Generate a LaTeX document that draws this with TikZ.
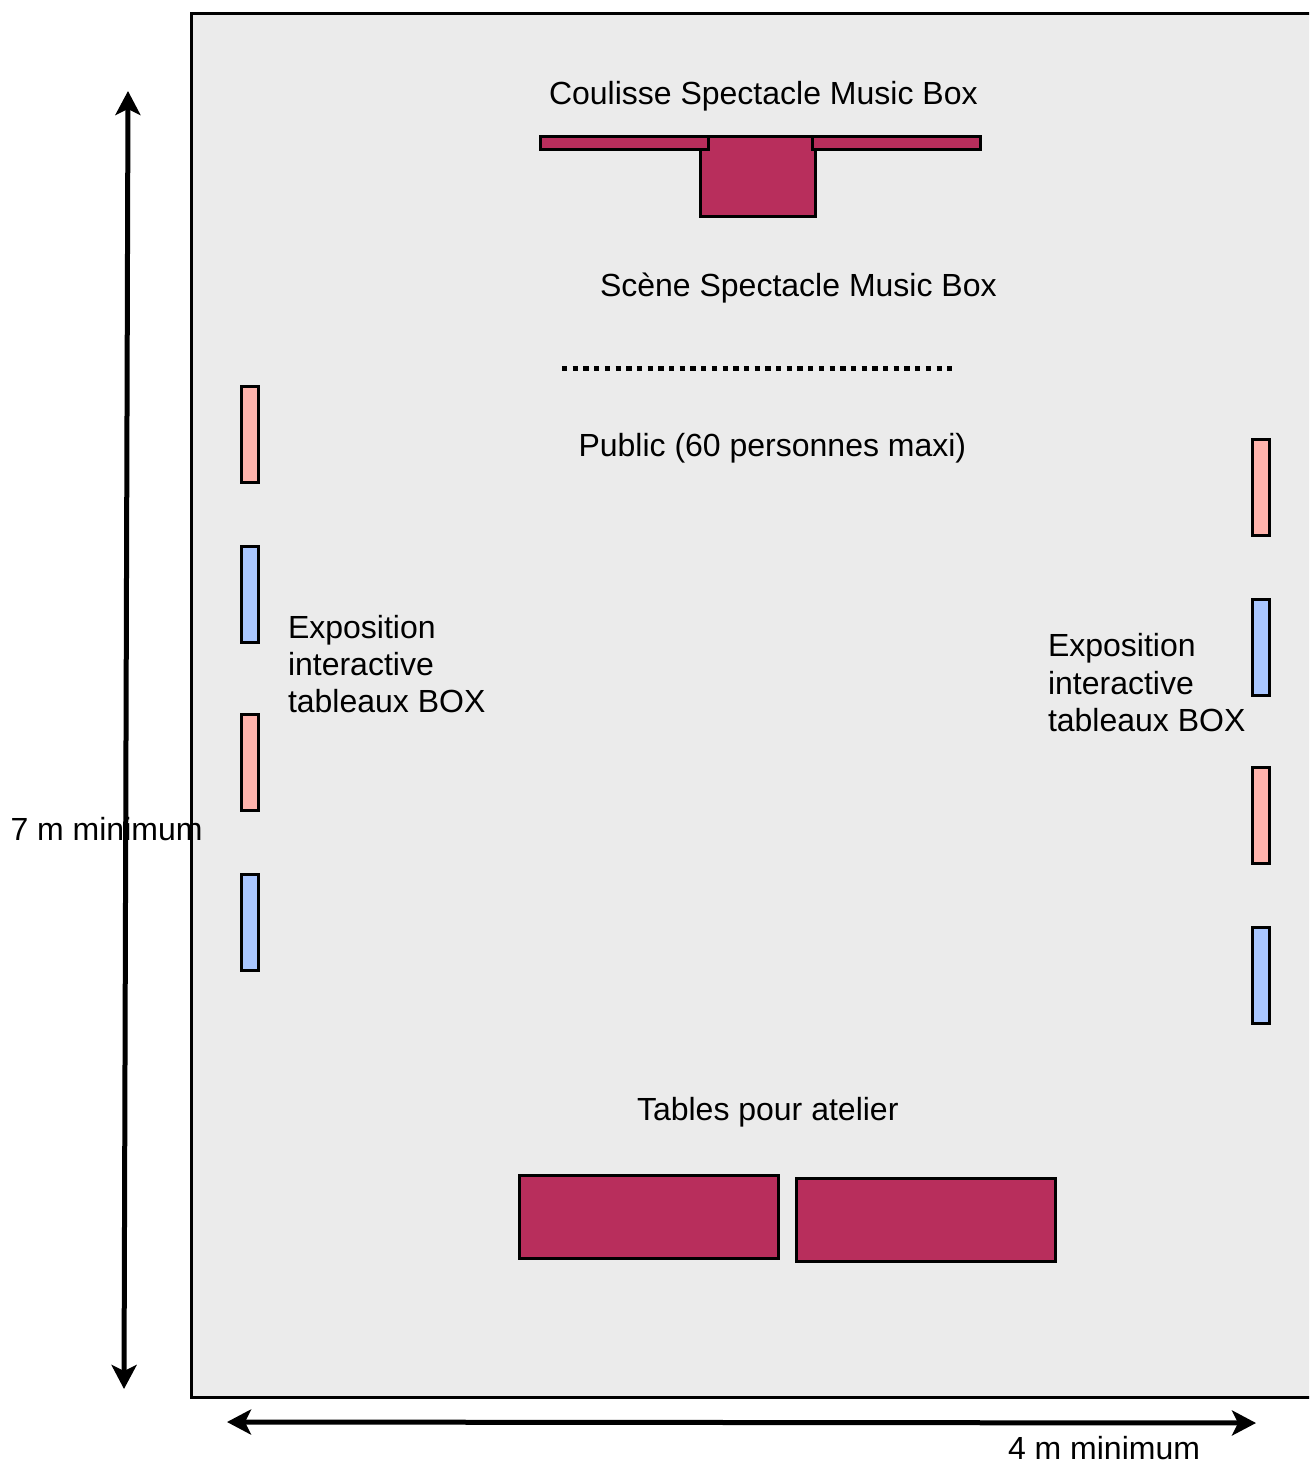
\documentclass[tikz,border=0pt]{standalone}
\usepackage{fontspec}
\setmainfont{Liberation Sans}
\usetikzlibrary{arrows.meta}
\definecolor{roomfill}{HTML}{EBEBEB}
\definecolor{crimson}{HTML}{B82E5C}
\definecolor{pinkpanel}{HTML}{FFB3AC}
\definecolor{bluepanel}{HTML}{A9C6FF}
\tikzset{
  x=1pt,y=-1pt,
  boxed/.style={draw=black,line width=2.9pt,anchor=north west,inner sep=0pt,outer sep=0pt},
  room/.style={boxed,fill=roomfill,minimum width=1200pt,minimum height=1384pt},
  crim/.style={boxed,fill=crimson},
  pinkp/.style={boxed,fill=pinkpanel,minimum width=16.6pt,minimum height=96pt},
  bluep/.style={boxed,fill=bluepanel,minimum width=16.6pt,minimum height=96pt},
  label/.style={anchor=base west,inner sep=0pt,outer sep=0pt,font=\fontsize{32}{37.4}\selectfont,align=left,text=black},
  dim/.style={line width=5pt,{Stealth[length=24pt,width=25pt,inset=6pt]}-{Stealth[length=24pt,width=25pt,inset=6pt]}},
  dots/.style={line width=5pt,dash pattern=on 5.3pt off 5.4pt}
}
\begin{document}
\begin{tikzpicture}
\useasboundingbox (0,0) rectangle (1309,1461);
\clip (0,0) rectangle (1309,1461);
\node[room] (roomrect) at (191.7,13.7) {};
\node[crim,minimum width=115pt,minimum height=79.6pt] (stage) at (700.9,136.6) {};
\node[crim,minimum width=168pt,minimum height=13pt] (wingl) at (540.9,136.6) {};
\node[crim,minimum width=168pt,minimum height=13pt] (wingr) at (812.9,136.6) {};
\node[crim,minimum width=259pt,minimum height=83pt] (table1) at (519.9,1175.9) {};
\node[crim,minimum width=259pt,minimum height=83pt] (table2) at (796.9,1178.9) {};
\node[pinkp] (lp1) at (241.9,386.9) {};
\node[bluep] (lb1) at (241.9,546.9) {};
\node[pinkp] (lp2) at (241.9,714.9) {};
\node[bluep] (lb2) at (241.9,874.9) {};
\node[pinkp] (rp1) at (1252.9,439.9) {};
\node[bluep] (rb1) at (1252.9,599.9) {};
\node[pinkp] (rp2) at (1252.9,767.9) {};
\node[bluep] (rb2) at (1252.9,927.9) {};
\node[label] (t1) at (549,105) {Coulisse Spectacle Music Box};
\node[label] (t2) at (600,296) {Scène Spectacle Music Box};
\node[label] (t3) at (578.5,456) {Public (60 personnes maxi)};
\node[label,anchor=north west] (t4) at (288,615) {Exposition\\interactive\\tableaux BOX};
\node[label,anchor=north west] (t5) at (1048,633.5) {Exposition\\interactive\\tableaux BOX};
\node[label] (t6) at (637,1120) {Tables pour atelier};
\node[label] (t7) at (10.5,840) {7 m minimum};
\node[label] (t8) at (1008,1459) {4 m minimum};
\coordinate (dl) at (562,368);
\coordinate (dr) at (952,368);
\draw[dots] (dl) -- (dr);
\coordinate (vt) at (128,91);
\coordinate (vb) at (124,1389);
\draw[dim] (vt) -- (vb);
\coordinate (hl) at (227,1422);
\coordinate (hr) at (1256,1423);
\draw[dim] (hl) -- (hr);
\end{tikzpicture}
\end{document}
